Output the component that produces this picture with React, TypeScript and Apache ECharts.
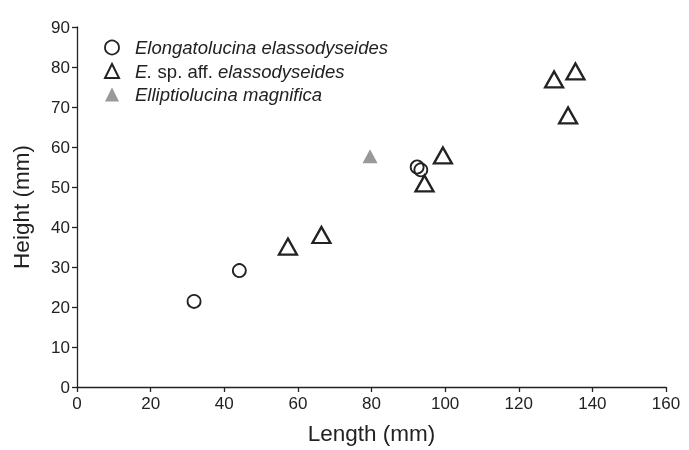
import React, { useEffect, useRef } from "react";
import * as echarts from "echarts";

const elongatolucina: [number, number][] = [
  [31.8, 21.4],
  [44.1, 29.1],
  [92.4, 55.0],
  [93.4, 54.3],
];
const affElassodyseides: [number, number][] = [
  [57.3, 35.1],
  [66.4, 38.0],
  [94.4, 50.9],
  [99.4, 57.9],
  [129.6, 76.9],
  [135.4, 78.9],
  [133.4, 67.9],
];
const magnifica: [number, number][] = [[79.6, 57.7]];

const xTicks = { min: 0, max: 160, interval: 20 };
const yTicks = { min: 0, max: 90, interval: 10 };

export default function App() {
  const ref = useRef<HTMLDivElement>(null);
  useEffect(() => {
    if (!ref.current) return;
    const chart = echarts.init(ref.current, undefined, { renderer: "svg" });
    const font = "Liberation Sans, Arial, sans-serif";
    const axisCommon = {
      axisLine: { show: true, lineStyle: { color: "#222", width: 1.3 } },
      axisTick: { show: true, length: 5, lineStyle: { color: "#222", width: 1.3 } },
      splitLine: { show: false },
      axisLabel: { color: "#222", fontSize: 17, fontFamily: font },
      nameTextStyle: { color: "#222", fontSize: 22.5, fontFamily: font },
      nameLocation: "middle" as const,
    };
    const txt = { fontSize: 18.5, fontFamily: font, color: "#222", lineHeight: 18 };
    chart.setOption({
      animation: false,
      grid: { left: 77, right: 23, top: 27, bottom: 56 },
      xAxis: {
        type: "value",
        ...xTicks,
        name: "Length (mm)",
        nameGap: 35,
        ...axisCommon,
        axisLabel: { ...axisCommon.axisLabel, margin: 8 },
      },
      yAxis: {
        type: "value",
        ...yTicks,
        name: "Height (mm)",
        nameGap: 44,
        ...axisCommon,
        axisLabel: { ...axisCommon.axisLabel, margin: 7 },
      },
      legend: {
        orient: "vertical",
        left: 99,
        top: 33,
        itemGap: 4.5,
        itemWidth: 14,
        itemHeight: 14,
        textStyle: {
          ...txt,
          fontStyle: "italic",
          rich: {
            s: { width: 11 },
            i: { ...txt, fontStyle: "italic" },
            n: { ...txt, fontStyle: "normal" },
          },
        },
        formatter: (name: string) => {
          if (name === "E. sp. aff. elassodyseides") {
            return "{s|}{i|E.}{n| sp. aff. }{i|elassodyseides}";
          }
          return "{s|}{i|" + name + "}";
        },
        data: [
          { name: "Elongatolucina elassodyseides", itemStyle: { color: "#fff", borderColor: "#222", borderWidth: 1.8 } },
          { name: "E. sp. aff. elassodyseides", itemStyle: { color: "#fff", borderColor: "#222", borderWidth: 2 } },
          { name: "Elliptiolucina magnifica", itemStyle: { color: "#999", borderWidth: 0 } },
        ],
      },
      series: [
        {
          name: "Elongatolucina elassodyseides",
          type: "scatter",
          symbol: "circle",
          symbolSize: 13,
          data: elongatolucina,
          itemStyle: { color: "rgba(255,255,255,0)", borderColor: "#222", borderWidth: 1.8, opacity: 1 },
        },
        {
          name: "E. sp. aff. elassodyseides",
          type: "scatter",
          symbol: "triangle",
          symbolSize: [18, 16],
          data: affElassodyseides,
          itemStyle: { color: "#fff", borderColor: "#222", borderWidth: 2.3, opacity: 1 },
        },
        {
          name: "Elliptiolucina magnifica",
          type: "scatter",
          symbol: "triangle",
          symbolSize: [15, 14],
          data: magnifica,
          itemStyle: { color: "#999", opacity: 1 },
        },
      ],
    });
    return () => chart.dispose();
  }, []);
  return <div ref={ref} style={{ position: "fixed", left: 0, top: 0, width: 689, height: 450 }} />;
}
